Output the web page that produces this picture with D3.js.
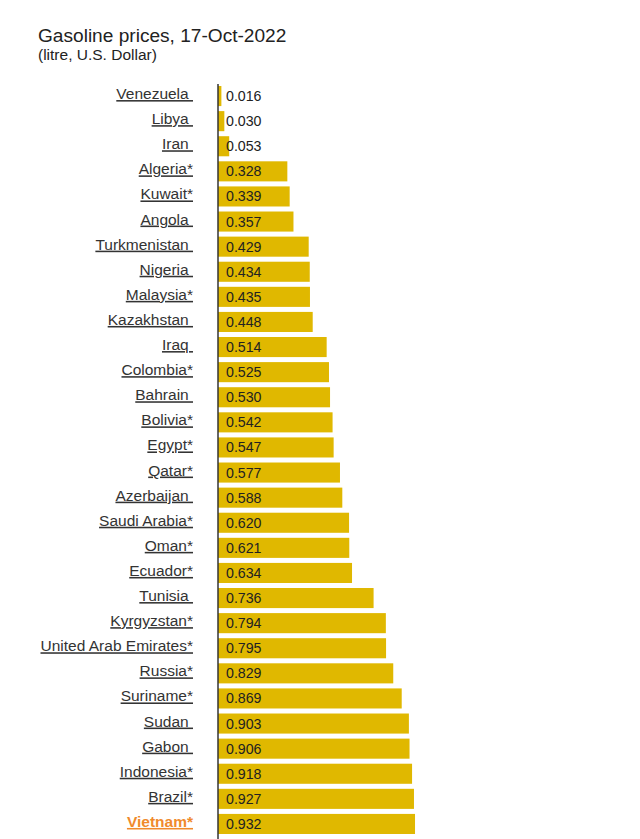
<!DOCTYPE html>
<html>
<head>
<meta charset="utf-8">
<script src="https://cdn.jsdelivr.net/npm/d3@7"></script>
<style>
body { margin: 0; background: #fff; }
svg { display: block; }
text { font-family: Arial, "Liberation Sans", sans-serif; }
</style>
</head>
<body>
<svg id="chart" width="640" height="839"></svg>
<script>
const countries = ["Venezuela ", "Libya ", "Iran ", "Algeria*", "Kuwait*", "Angola ", "Turkmenistan ", "Nigeria ", "Malaysia*", "Kazakhstan ", "Iraq ", "Colombia*", "Bahrain ", "Bolivia*", "Egypt*", "Qatar*", "Azerbaijan ", "Saudi Arabia*", "Oman*", "Ecuador*", "Tunisia ", "Kyrgyzstan*", "United Arab Emirates*", "Russia*", "Suriname*", "Sudan ", "Gabon ", "Indonesia*", "Brazil*", "Vietnam*"];
const prices = [0.016, 0.030, 0.053, 0.328, 0.339, 0.357, 0.429, 0.434, 0.435, 0.448, 0.514, 0.525, 0.530, 0.542, 0.547, 0.577, 0.588, 0.620, 0.621, 0.634, 0.736, 0.794, 0.795, 0.829, 0.869, 0.903, 0.906, 0.918, 0.927, 0.932];
const highlight = "Vietnam*";
const title = "Gasoline prices, 17-Oct-2022";
const subtitle = "(litre, U.S. Dollar)";

const data = countries.map((c, i) => ({ country: c, price: prices[i] }));
const svg = d3.select("#chart");

const y = d3.scaleBand().domain(countries).range([83.5, 836.5]).paddingInner(0.2).paddingOuter(0.1);
const x = d3.scaleLinear().domain([0, 1]).range([218, 429.4]);

svg.append("text").attr("x", 38).attr("y", 42).attr("font-size", 19.1).attr("fill", "#222").text(title);
svg.append("text").attr("x", 38).attr("y", 60).attr("font-size", 15.5).attr("fill", "#222").text(subtitle);

svg.selectAll("rect.bar").data(data).join("rect")
  .attr("class", "bar")
  .attr("x", x(0))
  .attr("y", d => y(d.country))
  .attr("width", d => x(d.price) - x(0))
  .attr("height", y.bandwidth())
  .attr("fill", "#e0b800");

svg.append("line").attr("x1", 218).attr("x2", 218).attr("y1", 84).attr("y2", 839)
  .attr("stroke", "#333").attr("stroke-width", 1.5);

svg.selectAll("text.val").data(data).join("text")
  .attr("class", "val")
  .attr("x", 226)
  .attr("y", d => y(d.country) + y.bandwidth() / 2 + 5)
  .attr("font-size", 14.2)
  .attr("fill", "#222")
  .text(d => d.price.toFixed(3));

svg.selectAll("text.lab").data(data).join("text")
  .attr("class", "lab")
  .attr("x", 193)
  .attr("y", d => y(d.country) + y.bandwidth() / 2 + 3)
  .attr("text-anchor", "end")
  .attr("font-size", 15.5)
  .attr("font-weight", d => d.country === highlight ? "bold" : "normal")
  .attr("fill", d => d.country === highlight ? "#f08a2c" : "#333")
  .style("white-space", "pre")
  .style("text-decoration", "underline")
  .text(d => d.country);
</script>
</body>
</html>
